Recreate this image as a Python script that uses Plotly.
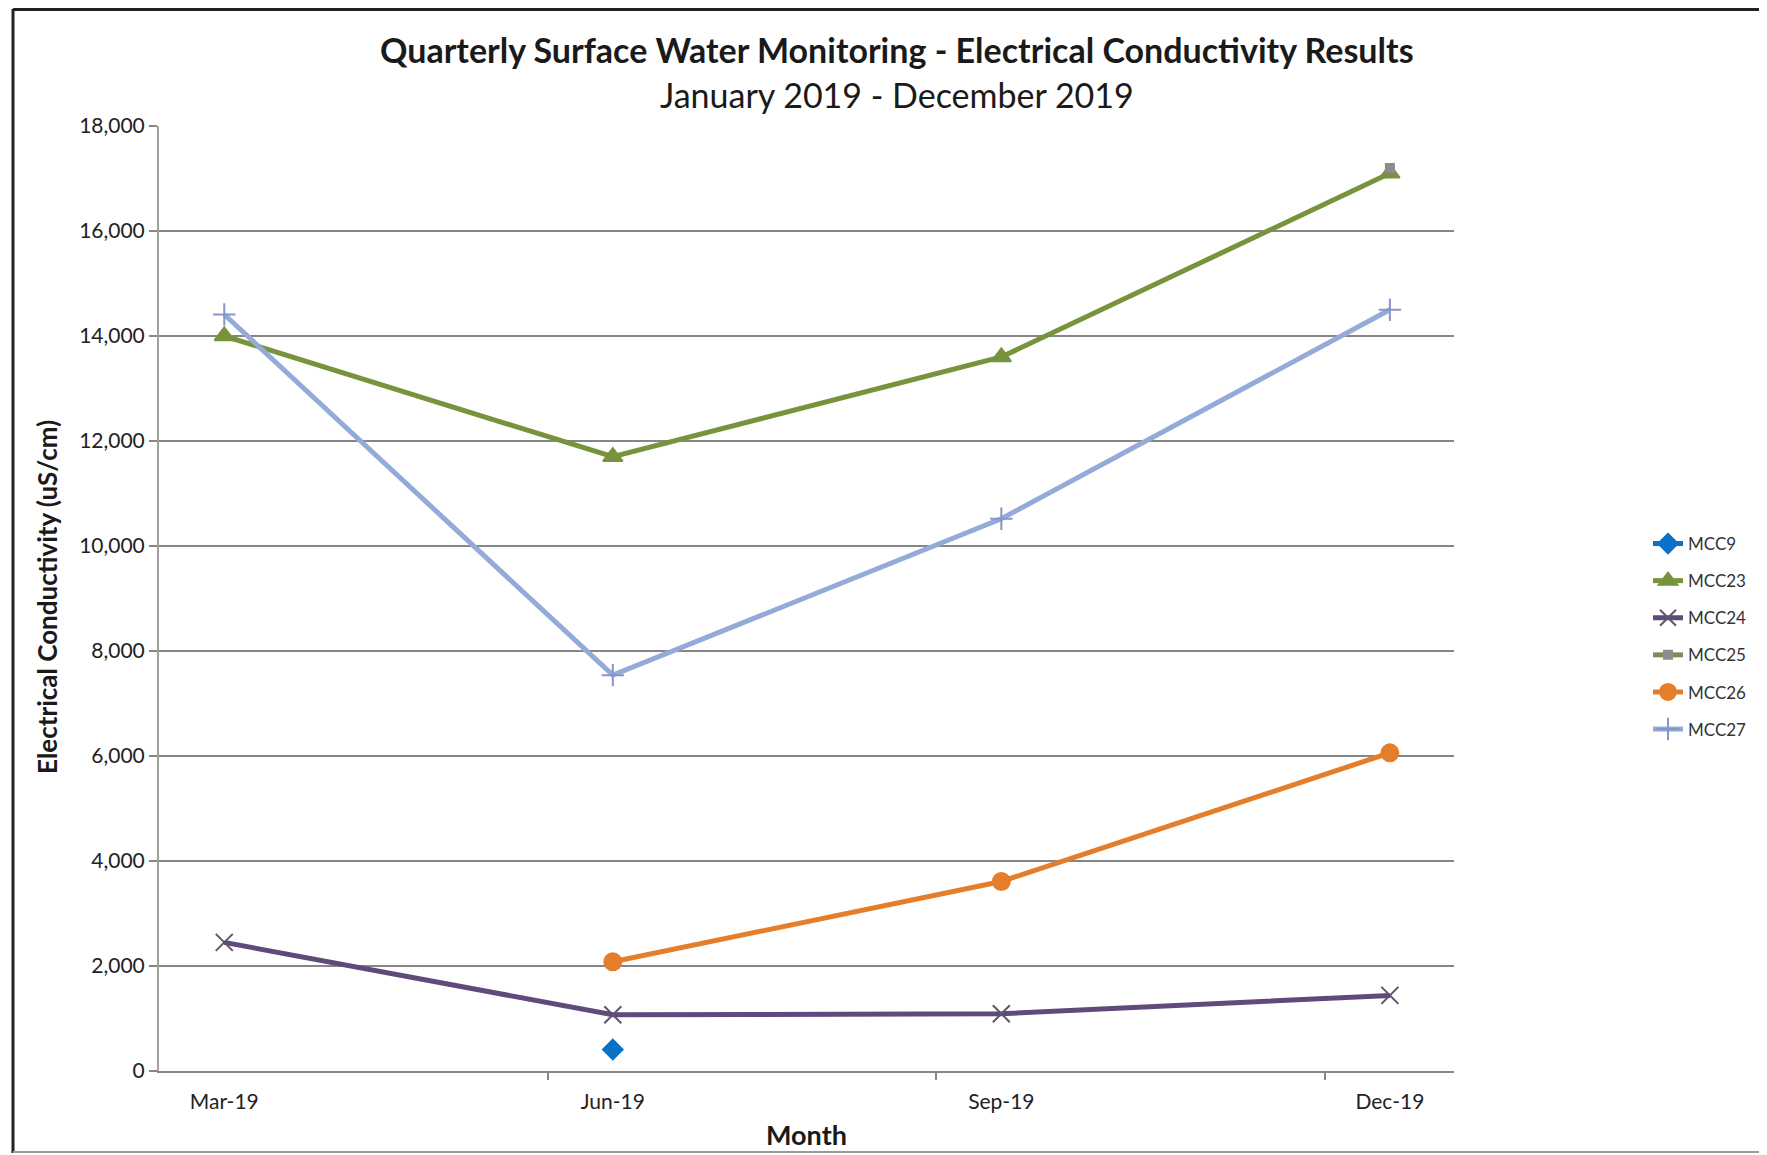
import plotly.graph_objects as go

# Sampling months (quarterly), shown as categories along the x axis
months = ["Mar-19", "Jun-19", "Sep-19", "Dec-19"]
month_pos = [0, 1, 2, 3]

# Electrical conductivity (uS/cm); None = no sample
mcc9 = [None, 410, None, None]
mcc23 = [14000, 11700, 13600, 17100]
mcc24 = [2450, 1070, 1090, 1440]
mcc25 = [None, None, None, 17200]
mcc26 = [None, 2080, 3610, 6060]
mcc27 = [14410, 7540, 10520, 14500]

y_ticks = [0, 2000, 4000, 6000, 8000, 10000, 12000, 14000, 16000, 18000]

FONT = "Lato, 'Open Sans', sans-serif"

series = [
    ("MCC9", mcc9, "#0A72C6", "diamond", "#0A72C6", 15),
    ("MCC23", mcc23, "#77933C", "triangle-up", "#77933C", 17),
    ("MCC24", mcc24, "#604A7B", "x-thin-open", "#59566E", 17),
    ("MCC25", mcc25, "#848A5A", "square", "#8C8C8C", 8),
    ("MCC26", mcc26, "#E57E2B", "circle", "#E57E2B", 17),
    ("MCC27", mcc27, "#94AAD8", "cross-thin-open", "#8497C8", 16),
]

fig = go.Figure()
for name, vals, color, symbol, mcolor, msize in series:
    fig.add_trace(go.Scatter(
        x=month_pos, y=vals, name=name, legendgroup=name,
        mode="lines+markers",
        line=dict(color=color, width=5),
        marker=dict(symbol=symbol, size=msize, color=mcolor,
                    line=dict(color=mcolor, width=2)),
        connectgaps=False,
    ))

# the page body adds an 8px offset; positions below are screen pixels
OFF = 8
W, H = 1767 - OFF, 1155 - OFF
L, R, T, B = 159, 1454, 126, 1071


def px(x):
    return (x - L) / (R - L)


def py(y):
    return (B - y) / (B - T)


annotations = [
    dict(text="<b>Quarterly Surface Water Monitoring - Electrical Conductivity Results</b>",
         x=px(897), y=py(50), font=dict(size=34, color="#1a1a1a")),
    dict(text="January 2019 - December 2019",
         x=px(897), y=py(95), font=dict(size=34, color="#1a1a1a")),
    dict(text="<b>Electrical Conductivity (uS/cm)</b>", textangle=-90,
         x=px(47), y=py(597), font=dict(size=26, color="#1a1a1a")),
    dict(text="<b>Month</b>",
         x=px(806), y=py(1134), font=dict(size=27, color="#1a1a1a")),
]
for a in annotations:
    a.update(xref="paper", yref="paper", showarrow=False,
             xanchor="center", yanchor="middle")

shapes = [
    dict(type="line", xref="paper", yref="paper",
         x0=px(13), x1=px(13), y0=py(9), y1=py(1153),
         line=dict(color="#222222", width=3)),
    dict(type="line", xref="paper", yref="paper",
         x0=px(13), x1=px(1766), y0=py(9.5), y1=py(9.5),
         line=dict(color="#222222", width=3)),
    dict(type="line", xref="paper", yref="paper",
         x0=px(13), x1=px(1766), y0=py(1152), y1=py(1152),
         line=dict(color="#9a9a9a", width=2)),
    dict(type="line", xref="paper", yref="paper",
         x0=px(1764), x1=px(1764), y0=py(9), y1=py(1153),
         line=dict(color="#bbbbbb", width=2)),
]

fig.update_layout(
    width=W, height=H,
    margin=dict(l=L - OFF, r=W - (R - OFF), t=T - OFF, b=H - (B - OFF),
                autoexpand=False),
    paper_bgcolor="white", plot_bgcolor="white",
    font=dict(family=FONT, color="#222222"),
    showlegend=True,
    legend=dict(x=px(1648), y=py(526), xanchor="left", yanchor="top",
                traceorder="grouped", tracegroupgap=12,
                font=dict(size=17, color="#333333"),
                bgcolor="rgba(0,0,0,0)"),
    annotations=annotations,
    shapes=shapes,
    xaxis=dict(
        range=[-0.168, 3.165],
        tickmode="array", tickvals=month_pos, ticktext=months,
        ticks="outside", ticklen=11, tickcolor="rgba(0,0,0,0)",
        minor=dict(tickmode="array", tickvals=[0.833, 1.833, 2.833],
                   ticks="outside", ticklen=7, tickcolor="#868686",
                   tickwidth=2, showgrid=False),
        showgrid=False, zeroline=False, automargin=False,
        showline=True, linecolor="#868686", linewidth=2,
        tickfont=dict(size=21, color="#222222"),
    ),
    yaxis=dict(
        range=[0, 18000],
        tickmode="array", tickvals=y_ticks,
        tickformat=",d",
        ticks="outside", ticklen=8, tickcolor="#868686", tickwidth=2,
        showgrid=True, gridcolor="#868686", gridwidth=2,
        zeroline=False, automargin=False,
        showline=True, linecolor="#a0a0a0", linewidth=2,
        tickfont=dict(size=21, color="#222222"),
    ),
)

fig.write_html("out.html")
